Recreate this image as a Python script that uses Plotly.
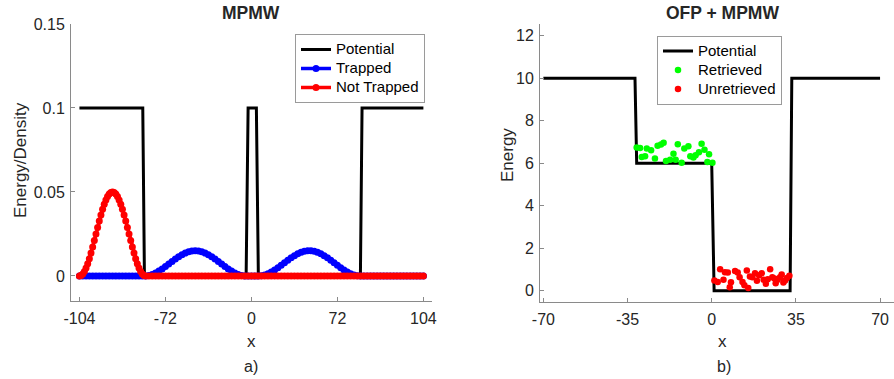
import plotly.graph_objects as go

# ---------------- data: panel a) ----------------
pot_a_x = [-104, -65.7, -64.7, -3.2, -2.0, 3.0, 4.2, 65.9, 66.9, 104]
pot_a_y = [0.1, 0.1, 0, 0, 0.1, 0.1, 0, 0, 0.1, 0.1]

trapped_x = list(range(-104, 105, 2))
trapped_y = (
    [0] * 20
    + [0.00004, 0.00034, 0.00094, 0.00181, 0.00291, 0.00420, 0.00562, 0.00712,
       0.00863, 0.01010, 0.01147, 0.01267, 0.01365, 0.01439, 0.01485, 0.01500,
       0.01485, 0.01439, 0.01365, 0.01267, 0.01147, 0.01010, 0.00863, 0.00712,
       0.00562, 0.00420, 0.00291, 0.00181, 0.00094, 0.00034, 0.00004]
    + [0, 0, 0]
    + [0, 0.00015, 0.00061, 0.00134, 0.00233, 0.00353, 0.00489, 0.00635,
       0.00787, 0.00938, 0.01080, 0.01210, 0.01320, 0.01406, 0.01466, 0.01496,
       0.01496, 0.01466, 0.01406, 0.01320, 0.01210, 0.01080, 0.00938, 0.00787,
       0.00635, 0.00489, 0.00353, 0.00233, 0.00134, 0.00061, 0.00015, 0]
    + [0] * 19
)

not_trapped_x = list(range(-104, -63)) + list(range(-62, 105, 2))
not_trapped_y = (
    [0, 0.00031, 0.00122, 0.00272, 0.00477, 0.00732, 0.01031, 0.01365, 0.01727,
     0.02109, 0.02500, 0.02891, 0.03273, 0.03635, 0.03969, 0.04268, 0.04523,
     0.04728, 0.04878, 0.04969, 0.05000, 0.04969, 0.04878, 0.04728, 0.04523,
     0.04268, 0.03969, 0.03635, 0.03273, 0.02891, 0.02500, 0.02109, 0.01727,
     0.01365, 0.01031, 0.00732, 0.00477, 0.00272, 0.00122, 0.00031, 0]
    + [0] * 84
)

a_xtickvals = [-104, -52, 0, 52, 104]
a_xticktext = ["-104", "-72", "0", "72", "104"]
a_ytickvals = [0, 0.05, 0.1, 0.15]
a_yticktext = ["0", "0.05", "0.1", "0.15"]

# ---------------- data: panel b) ----------------
pot_b_x = [-70, -31.9, -31.2, 0.0, 1.0, 32.6, 33.3, 70]
pot_b_y = [10, 10, 6, 6, 0, 0, 10, 10]

retr_x = [-31.2, -29.8, -29.1, -27.0, -25.2, -27.7, -23.6, -22.5, -21.1, -20.0,
          -19.0, -17.3, -15.9, -14.1, -15.0, -12.5, -11.4, -9.7, -8.9, -7.6,
          -6.7, -5.3, -4.2, -3.0, -1.1, -1.8, 0.3]
retr_y = [6.74, 6.72, 6.30, 6.69, 6.61, 6.33, 6.22, 6.82, 6.88, 6.96,
          6.11, 6.17, 6.45, 6.89, 6.17, 6.03, 6.69, 6.80, 6.33, 6.27,
          6.38, 6.52, 6.92, 6.64, 6.42, 6.06, 6.03]

unret_x = [1.1, 2.5, 3.5, 4.9, 5.5, 6.7, 7.5, 8.0, 9.7, 10.8, 11.6, 12.8, 13.6,
           14.6, 15.2, 15.9, 16.9, 18.0, 18.8, 19.7, 20.8, 21.6, 22.5, 23.3,
           24.3, 25.2, 26.1, 26.6, 27.4, 28.4, 29.1, 29.8, 30.5, 31.3, 32.3]
unret_y = [0.49, 0.42, 1.02, 0.52, 0.88, 0.86, 0.17, 0.41, 0.94, 0.86, 0.64,
           0.42, 0.27, 0.96, 0.13, 0.67, 0.64, 0.83, 0.47, 0.74, 0.83, 0.52,
           0.33, 0.55, 1.02, 0.64, 0.58, 0.36, 0.52, 0.64, 0.77, 0.39, 0.49,
           0.60, 0.71]

b_xtickvals = [-70, -35, 0, 35, 70]
b_xticktext = ["-70", "-35", "0", "35", "70"]
b_ytickvals = [0, 2, 4, 6, 8, 10, 12]

# ---------------- figure ----------------
W, H = 894, 379
FONT = "Arial, Liberation Sans, Helvetica, sans-serif"
TICKC = "#262626"
AXC = "#8a8a8a"


def lname(s):
    # legend text shown at 15px while the legend row pitch follows a 12px base
    return '<span style="font-size:15px">' + s + "</span>"


fig = go.Figure()

fig.add_trace(go.Scatter(x=pot_a_x, y=pot_a_y, mode="lines", name=lname("Potential"),
                         line=dict(color="black", width=3),
                         xaxis="x", yaxis="y", legend="legend"))
fig.add_trace(go.Scatter(x=trapped_x, y=trapped_y, mode="lines+markers",
                         name=lname("Trapped"),
                         line=dict(color="#0000ff", width=3.5),
                         marker=dict(color="#0000ff", size=7),
                         xaxis="x", yaxis="y", legend="legend"))
fig.add_trace(go.Scatter(x=not_trapped_x, y=not_trapped_y, mode="lines+markers",
                         name=lname("Not Trapped"),
                         line=dict(color="#ff0000", width=3.5),
                         marker=dict(color="#ff0000", size=7),
                         xaxis="x", yaxis="y", legend="legend"))

fig.add_trace(go.Scatter(x=pot_b_x, y=pot_b_y, mode="lines", name=lname("Potential"),
                         line=dict(color="black", width=3),
                         xaxis="x2", yaxis="y2", legend="legend2"))
fig.add_trace(go.Scatter(x=retr_x, y=retr_y, mode="markers", name=lname("Retrieved"),
                         marker=dict(color="#00ff00", size=6.5),
                         xaxis="x2", yaxis="y2", legend="legend2"))
fig.add_trace(go.Scatter(x=unret_x, y=unret_y, mode="markers", name=lname("Unretrieved"),
                         marker=dict(color="#ff0000", size=6.5),
                         xaxis="x2", yaxis="y2", legend="legend2"))


def px(v):
    return v / W


def py(v):
    return 1 - v / H


axis_common = dict(showgrid=False, zeroline=False, showline=True, linecolor=AXC,
                   linewidth=1, ticks="inside", ticklen=4, tickcolor=AXC,
                   tickfont=dict(family=FONT, size=16, color=TICKC), automargin=False)

fig.update_layout(
    width=W, height=H,
    margin=dict(l=0, r=0, t=0, b=0),
    paper_bgcolor="white", plot_bgcolor="white",
    font=dict(family=FONT, color=TICKC),
    xaxis=dict(domain=[px(71), px(432)], range=[-109.1, 109.2], anchor="y",
               tickmode="array", tickvals=a_xtickvals, ticktext=a_xticktext,
               ticklabelstandoff=3, **axis_common),
    yaxis=dict(domain=[py(300.5), py(24)], range=[-0.0146, 0.15], anchor="x",
               tickmode="array", tickvals=a_ytickvals, ticktext=a_yticktext,
               ticklabelstandoff=2, **axis_common),
    xaxis2=dict(domain=[px(540), 1.0], range=[-71.4, 75.8], anchor="y2",
                tickmode="array", tickvals=b_xtickvals, ticktext=b_xticktext,
                ticklabelstandoff=3, **axis_common),
    yaxis2=dict(domain=[py(301.5), py(24)], range=[-0.5, 12.55], anchor="x2",
                tickmode="array", tickvals=b_ytickvals, ticklabelstandoff=2,
                **axis_common),
    legend=dict(x=px(295), y=py(34), xanchor="left", yanchor="top",
                bordercolor="#9a9a9a", borderwidth=1, bgcolor="white",
                font=dict(family=FONT, size=12, color="black"), tracegroupgap=0),
    legend2=dict(x=px(657), y=py(35.5), xanchor="left", yanchor="top",
                 bordercolor="#9a9a9a", borderwidth=1, bgcolor="white",
                 font=dict(family=FONT, size=12, color="black"), tracegroupgap=0),
    showlegend=True,
)

ann = [
    dict(text="<b>MPMW</b>", x=px(251), y=py(13), size=17.5),
    dict(text="<b>OFP + MPMW</b>", x=px(722), y=py(13), size=17.5),
    dict(text="x", x=px(251), y=py(341), size=17),
    dict(text="x", x=px(722), y=py(341), size=17),
    dict(text="a)", x=px(251), y=py(366), size=16),
    dict(text="b)", x=px(724), y=py(366), size=16),
]
for a in ann:
    fig.add_annotation(text=a["text"], x=a["x"], y=a["y"], xref="paper", yref="paper",
                       xanchor="center", yanchor="middle", showarrow=False,
                       font=dict(family=FONT, size=a["size"], color=TICKC))
fig.add_annotation(text="Energy/Density", x=px(21), y=py(160), xref="paper", yref="paper",
                   xanchor="center", yanchor="middle", showarrow=False, textangle=-90,
                   font=dict(family=FONT, size=17, color=TICKC))
fig.add_annotation(text="Energy", x=px(507), y=py(155), xref="paper", yref="paper",
                   xanchor="center", yanchor="middle", showarrow=False, textangle=-90,
                   font=dict(family=FONT, size=17, color=TICKC))

fig.write_html("out.html", config={"displayModeBar": False},
               post_script="document.body.style.margin='0';document.body.style.overflow='hidden';")
